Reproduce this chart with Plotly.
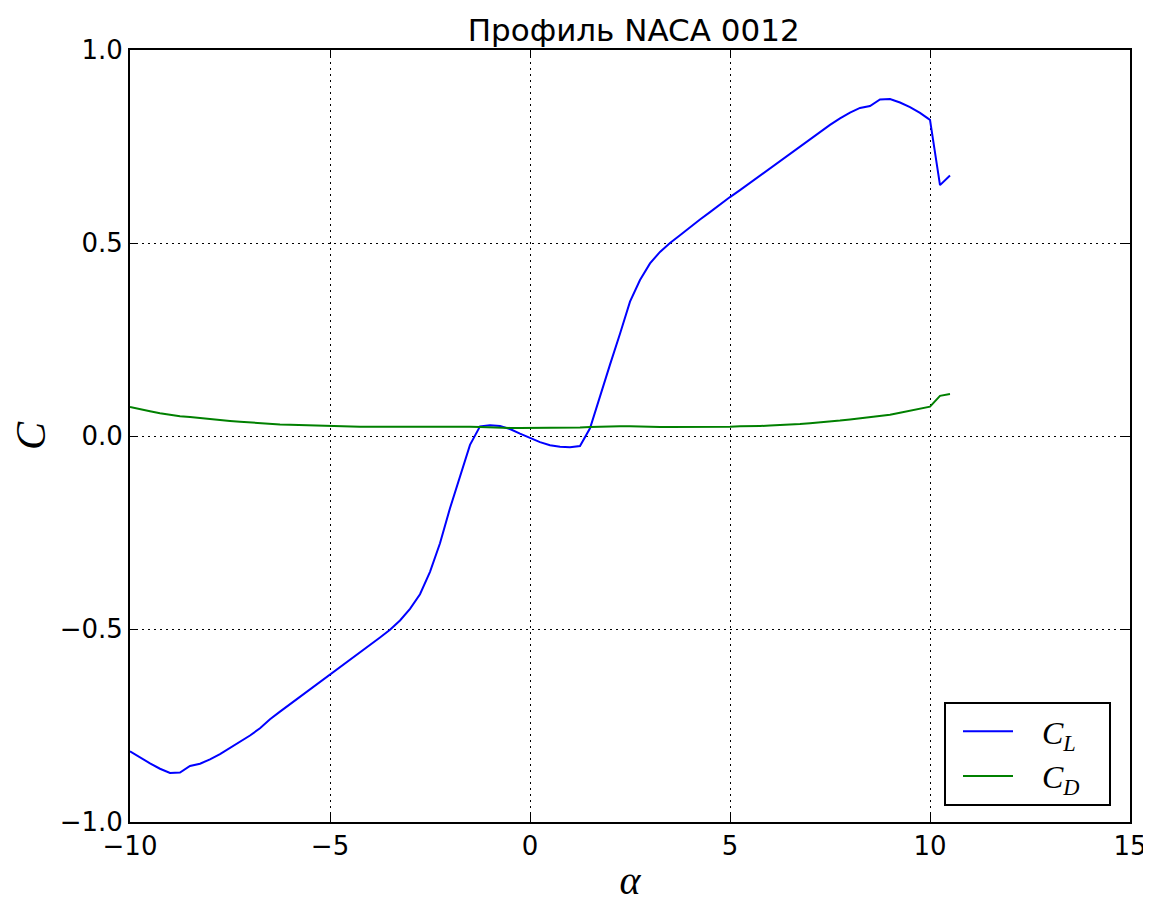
import numpy as np
import plotly.graph_objects as go

# Angle of attack, degrees (step 0.25)
alpha = [round(-10 + 0.25 * i, 2) for i in range(83)]

# Lift coefficient C_L
cl = [
    -0.817, -0.833, -0.848, -0.862, -0.873, -0.872, -0.855, -0.849, -0.838, -0.824,
    -0.808, -0.793, -0.776, -0.757, -0.734, -0.714, -0.695, -0.675, -0.656, -0.637,
    -0.618, -0.599, -0.580, -0.560, -0.541, -0.522, -0.502, -0.478, -0.448, -0.410,
    -0.352, -0.278, -0.187, -0.105, -0.023, 0.025, 0.028, 0.026, 0.018, 0.006,
    -0.006, -0.016, -0.024, -0.028, -0.029, -0.026, 0.020, 0.105, 0.185, 0.265,
    0.348, 0.404, 0.447, 0.477, 0.500, 0.520, 0.541, 0.561, 0.580, 0.600,
    0.619, 0.637, 0.656, 0.675, 0.694, 0.713, 0.732, 0.750, 0.770, 0.788,
    0.806, 0.823, 0.838, 0.850, 0.855, 0.872, 0.873, 0.864, 0.852, 0.837,
    0.819, 0.650, 0.675,
]

# Drag coefficient C_D
cd = [
    0.075, 0.069, 0.064, 0.059, 0.055, 0.051, 0.049, 0.046, 0.043, 0.041,
    0.039, 0.037, 0.035, 0.033, 0.032, 0.030, 0.029, 0.028, 0.027, 0.026,
    0.025, 0.025, 0.024, 0.024, 0.024, 0.024, 0.024, 0.024, 0.024, 0.024,
    0.025, 0.025, 0.025, 0.025, 0.024, 0.023, 0.022, 0.022, 0.021, 0.021,
    0.021, 0.021, 0.021, 0.021, 0.022, 0.022, 0.023, 0.024, 0.025, 0.025,
    0.025, 0.024, 0.024, 0.023, 0.023, 0.023, 0.023, 0.023, 0.023, 0.024,
    0.024, 0.025, 0.025, 0.026, 0.027, 0.028, 0.030, 0.031, 0.033, 0.035,
    0.037, 0.040, 0.043, 0.046, 0.048, 0.051, 0.055, 0.060, 0.065, 0.070,
    0.076, 0.104, 0.109,
]

x_ticks = [-10, -5, 0, 5, 10, 15]
y_ticks = [-1.0, -0.5, 0.0, 0.5, 1.0]

sans = "DejaVu Sans"
serif = "Liberation Serif"
pad = "\u00a0"

fig = go.Figure()
fig.add_trace(go.Scatter(
    x=alpha, y=cl, mode="lines",
    name=pad * 3 + "<i>C</i><sub><i>L</i></sub>" + pad * 3,
    line=dict(color="#0000ff", width=2),
))
fig.add_trace(go.Scatter(
    x=alpha, y=cd, mode="lines",
    name=pad * 3 + "<i>C</i><sub><i>D</i></sub>" + pad * 3,
    line=dict(color="#008000", width=2),
))

axis_common = dict(
    showline=True, linecolor="black", linewidth=2, mirror="ticks",
    ticks="inside", ticklen=8, tickwidth=1, tickcolor="black",
    showgrid=True, gridcolor="black", gridwidth=1, griddash="2px,4px",
    zeroline=False,
    tickfont=dict(family=sans, size=26, color="black"),
)

fig.update_layout(
    width=1143, height=895,
    paper_bgcolor="white", plot_bgcolor="white",
    margin=dict(l=122, r=21, t=42, b=81, autoexpand=False),
    title=dict(text="Профиль NACA 0012", x=0.5474, xanchor="center",
               y=0.975, yanchor="middle",
               font=dict(family=sans, size=31, color="black")),
    xaxis=dict(range=[-10, 15], tickvals=x_ticks,
               title=dict(text="<i>α</i>", font=dict(family=serif, size=40, color="black"),
                          standoff=9),
               **axis_common),
    yaxis=dict(range=[-1, 1], tickvals=y_ticks, tickformat=".1f",
               title=dict(text="<i>C</i>", font=dict(family=serif, size=42, color="black"),
                          standoff=30),
               **axis_common),
    showlegend=True,
    legend=dict(
        x=0.981, y=0.0207, xanchor="right", yanchor="bottom",
        bordercolor="black", borderwidth=2, bgcolor="white",
        font=dict(family=serif, size=32, color="black"),
        itemwidth=50, tracegroupgap=0, indentation=12,
    ),
)

fig.write_html("out.html")
